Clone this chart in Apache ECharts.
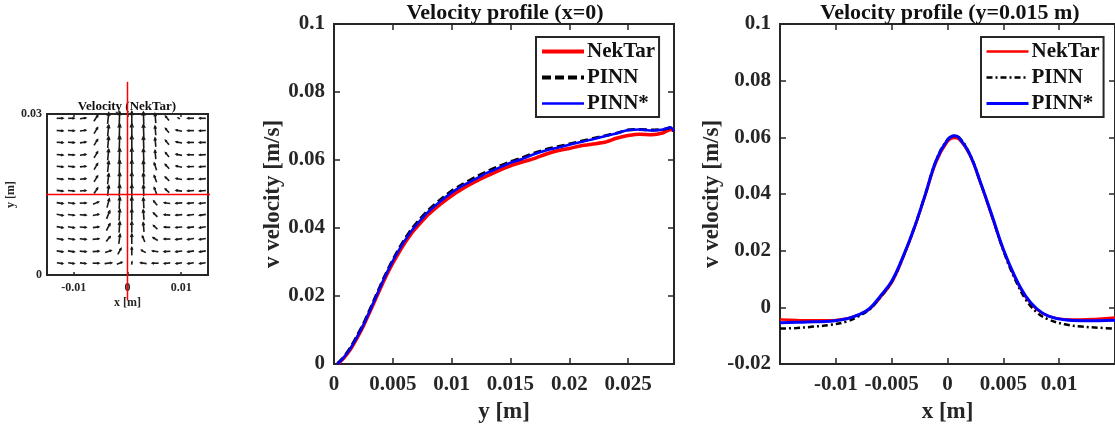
<!DOCTYPE html>
<html><head><meta charset="utf-8">
<script src="https://cdn.jsdelivr.net/npm/echarts@6/dist/echarts.min.js"></script>
<style>html,body{margin:0;padding:0;background:#fff}#c{width:1115px;height:429px}</style>
</head><body><div id="c"></div>
<script>
// ---------- Quiver (NekTar velocity field) ----------
const qx = [-0.0126,-0.0105,-0.0083,-0.0059,-0.0036,-0.0015,0.0008,0.003,0.0052,0.0074,0.0096,0.0118,0.014];
const qy = [0.0292,0.0269,0.0247,0.0224,0.0202,0.0179,0.0157,0.0134,0.0112,0.0089,0.0067,0.0044,0.0022];
const qu = [
 [0.032,0.03,0.03,0.02,0.006,0.002,0,-0.002,-0.004,-0.018,-0.01,-0.032,-0.032],
 [0.032,0.032,0.03,0.018,0.005,0.002,0,-0.002,-0.004,-0.018,-0.03,-0.032,-0.032],
 [0.032,0.032,0.03,0.018,0.005,0.002,0,-0.002,-0.004,-0.018,-0.03,-0.032,-0.032],
 [0.032,0.032,0.03,0.018,0.005,0.002,0,-0.002,-0.004,-0.018,-0.03,-0.032,-0.032],
 [0.032,0.032,0.03,0.018,0.006,0.002,0,-0.002,-0.012,-0.02,-0.03,-0.032,-0.032],
 [0.032,0.032,0.03,0.018,0.006,0.002,0,-0.002,-0.012,-0.02,-0.03,-0.032,-0.032],
 [0.032,0.032,0.03,0.018,0.006,0.002,0,-0.002,-0.012,-0.02,-0.03,-0.032,-0.032],
 [0.032,0.032,0.032,0.028,0.012,0.003,0,-0.003,-0.018,-0.03,-0.032,-0.032,-0.032],
 [0.032,0.032,0.032,0.03,0.016,0.004,0,-0.004,-0.02,-0.03,-0.032,-0.032,-0.032],
 [0.032,0.032,0.032,0.03,0.018,0.004,0,-0.004,-0.02,-0.03,-0.032,-0.032,-0.032],
 [0.032,0.032,0.032,0.032,0.02,0.006,0,-0.012,-0.024,-0.032,-0.032,-0.032,-0.032],
 [0.032,0.032,0.032,0.032,0.03,0.016,0,-0.022,-0.03,-0.032,-0.032,-0.032,-0.032],
 [0.03,0.03,0.03,0.032,0.036,0.026,0.002,-0.03,-0.032,-0.03,-0.03,-0.03,-0.03]
];
const qv = [
 [0,0,0.004,0.03,0.056,0.066,0.068,0.062,0.048,0.022,0.004,0,0],
 [-0.002,-0.001,0.004,0.03,0.056,0.066,0.068,0.061,0.046,0.022,0.006,0,-0.001],
 [-0.002,-0.002,0.004,0.03,0.056,0.065,0.067,0.06,0.045,0.022,0.006,0,-0.001],
 [-0.003,-0.002,0.004,0.03,0.055,0.064,0.066,0.059,0.044,0.022,0.006,0,-0.002],
 [-0.003,-0.003,0.003,0.03,0.054,0.063,0.064,0.058,0.036,0.022,0.006,-0.001,-0.002],
 [-0.004,-0.003,0.003,0.03,0.053,0.062,0.062,0.056,0.034,0.02,0.005,-0.002,-0.003],
 [-0.004,-0.003,0.002,0.028,0.052,0.06,0.06,0.054,0.032,0.018,0.004,-0.002,-0.003],
 [-0.005,-0.004,0,0.012,0.045,0.058,0.058,0.052,0.022,0.004,-0.002,-0.003,-0.004],
 [-0.006,-0.004,-0.002,0.006,0.04,0.056,0.056,0.05,0.02,0.002,-0.003,-0.004,-0.005],
 [-0.006,-0.005,-0.002,0.004,0.035,0.054,0.054,0.046,0.018,0.001,-0.003,-0.004,-0.005],
 [-0.006,-0.005,-0.003,0.003,0.025,0.048,0.05,0.03,0.015,0,-0.004,-0.005,-0.005],
 [-0.005,-0.005,-0.003,0.002,0.01,0.03,0.04,0.012,0.004,-0.002,-0.004,-0.005,-0.005],
 [-0.004,-0.004,-0.003,0,0.004,0.01,0.014,0.004,0,-0.003,-0.004,-0.004,-0.004]
];
const crossV = [[0,-0.0047],[0,0.036]];
const crossH = [[-0.0188,0.015],[0.0172,0.015]];
const qXTicks = [-0.01,0,0.01];
const qYTicks = [0,0.03];

// ---------- Velocity profile (x=0) ----------
const midY = [0.0003,0.0008,0.0014,0.002,0.0025,0.003,0.0036,0.0042,0.0048,0.0054,0.006,0.0066,0.0073,0.008,0.009,0.01,0.011,0.012,0.013,0.014,0.015,0.016,0.017,0.018,0.019,0.02,0.021,0.022,0.023,0.024,0.025,0.026,0.027,0.028,0.0286,0.0289];
const midNek = [0,0.0016,0.0043,0.0079,0.0112,0.015,0.0196,0.0242,0.0284,0.0321,0.0355,0.0385,0.0413,0.0439,0.0469,0.0495,0.0517,0.0536,0.0553,0.0569,0.0583,0.0594,0.0604,0.0617,0.0627,0.0634,0.0642,0.0647,0.0652,0.0664,0.0672,0.0676,0.0674,0.068,0.069,0.0686];
const midPinn = [0.0002,0.0019,0.0048,0.0085,0.0118,0.0156,0.0203,0.025,0.0293,0.0332,0.0366,0.0397,0.0426,0.0452,0.0482,0.0509,0.053,0.0549,0.0566,0.0581,0.0595,0.0607,0.062,0.0631,0.0639,0.0647,0.0655,0.0663,0.0671,0.0679,0.0688,0.069,0.0688,0.069,0.0695,0.0685];
const midPinnS = [0,0.0018,0.0046,0.0082,0.0115,0.0153,0.02,0.0247,0.029,0.0328,0.0362,0.0392,0.0421,0.0447,0.0477,0.0504,0.0526,0.0544,0.0562,0.0577,0.0592,0.0603,0.0617,0.0628,0.0636,0.0645,0.0653,0.0661,0.067,0.0678,0.0688,0.069,0.0687,0.069,0.0696,0.0685];
const midXTicks = [0,0.005,0.01,0.015,0.02,0.025];
const midYTicks = [0,0.02,0.04,0.06,0.08,0.1];

// ---------- Velocity profile (y=0.015 m) ----------
const rX = [-0.015,-0.0135,-0.012,-0.0105,-0.009,-0.008,-0.007,-0.006,-0.005,-0.004,-0.003,-0.002,-0.001,0,0.0006,0.001,0.002,0.003,0.004,0.005,0.006,0.007,0.008,0.009,0.0105,0.012,0.0135,0.015];
const rNek = [-0.0043,-0.0045,-0.0046,-0.0046,-0.0039,-0.0027,-0.0008,0.0035,0.0086,0.0172,0.0275,0.0393,0.0513,0.0584,0.0598,0.0594,0.0536,0.0432,0.0318,0.0202,0.0108,0.0036,-0.0008,-0.003,-0.0042,-0.0043,-0.004,-0.0036];
const rPinn = [-0.0075,-0.0073,-0.0068,-0.0062,-0.005,-0.0032,-0.0008,0.0036,0.009,0.0176,0.0279,0.0398,0.0521,0.0592,0.0605,0.0601,0.0541,0.0435,0.032,0.02,0.0103,0.0028,-0.0018,-0.0042,-0.006,-0.0068,-0.0072,-0.0075];
const rPinnS = [-0.0054,-0.0053,-0.0051,-0.0049,-0.004,-0.0027,-0.0005,0.004,0.0092,0.0177,0.0278,0.0397,0.052,0.0591,0.0606,0.06,0.054,0.0436,0.0322,0.0205,0.0112,0.004,-0.0005,-0.003,-0.0044,-0.0047,-0.0047,-0.0046];
const rXTicks = [-0.01,-0.005,0,0.005,0.01];
const rYTicks = [-0.02,0,0.02,0.04,0.06,0.08,0.1];

const FONT = 'Liberation Serif';
const AX = '#262626';
const zip = (a, b) => a.map((v, i) => [v, b[i]]);

const quiverData = [];
qy.forEach((y, r) => qx.forEach((x, c) => quiverData.push([x, y, qu[r][c], qv[r][c]])));

function axisPair(kind, gi, min, max, ticks, labelTicks, lab) {
  const main = {
    type: 'value', gridIndex: gi, min: min, max: max,
    position: kind === 'x' ? 'bottom' : 'left',
    axisLine: {show: false, onZero: false}, splitLine: {show: false},
    axisTick: {show: true, inside: true, length: lab.tick, customValues: ticks, lineStyle: {color: AX, width: 1.5}},
    axisLabel: {show: true, customValues: labelTicks, margin: lab.margin, color: AX,
      fontFamily: FONT, fontWeight: 'bold', fontSize: lab.size},
    name: lab.name, nameLocation: 'middle', nameGap: lab.gap,
    nameTextStyle: {fontFamily: FONT, fontWeight: 'bold', fontSize: lab.nsize, color: AX}
  };
  const mirror = {
    type: 'value', gridIndex: gi, min: min, max: max, position: kind === 'x' ? 'top' : 'right',
    axisLine: {show: false, onZero: false}, splitLine: {show: false}, axisLabel: {show: false},
    axisTick: {show: true, inside: true, length: lab.tick, customValues: ticks, lineStyle: {color: AX, width: 1.5}}
  };
  return [main, mirror];
}

const xAxes = [].concat(
  axisPair('x', 0, -0.015, 0.015, qXTicks, qXTicks, {tick: 3, margin: 7, size: 12, name: 'x [m]', gap: 22, nsize: 12}),
  axisPair('x', 1, 0, 0.0289, midXTicks, midXTicks, {tick: 6, margin: 10, size: 21, name: 'y [m]', gap: 37, nsize: 23}),
  axisPair('x', 2, -0.015, 0.015, rXTicks, rXTicks, {tick: 6, margin: 10, size: 21, name: 'x [m]', gap: 37, nsize: 23})
);
const yAxes = [].concat(
  axisPair('y', 0, 0, 0.03, qYTicks, qYTicks, {tick: 3, margin: 5, size: 12, name: 'y [m]', gap: 28, nsize: 12}),
  axisPair('y', 1, 0, 0.1, midYTicks, midYTicks, {tick: 6, margin: 9, size: 21, name: 'v velocity [m/s]', gap: 47, nsize: 23}),
  axisPair('y', 2, -0.02, 0.1, rYTicks, rYTicks, {tick: 6, margin: 9, size: 21, name: 'v velocity [m/s]', gap: 54, nsize: 23})
);

const gridBase = {show: true, borderColor: AX, borderWidth: 2, backgroundColor: '#fff', containLabel: false};
const legendBase = {
  orient: 'vertical', itemWidth: 42, itemHeight: 14, itemGap: 5, padding: [4, 4, 3, 4],
  borderColor: AX, borderWidth: 2, backgroundColor: '#fff', borderRadius: 0,
  selectedMode: false,
  itemStyle: {opacity: 0},
  textStyle: {fontFamily: FONT, fontWeight: 'bold', fontSize: 21, color: '#111', padding: [0, 0, 0, -2]}
};

const S = 200; // px per unit speed for arrows
const option = {
  animation: false,
  backgroundColor: '#fff',
  grid: [
    Object.assign({left: 47, top: 114, width: 161, height: 161}, gridBase),
    Object.assign({left: 334, top: 24, width: 340, height: 341}, gridBase),
    Object.assign({left: 780, top: 24, width: 340, height: 340}, gridBase)
  ],
  xAxis: xAxes,
  yAxis: yAxes,
  legend: [
    Object.assign({left: 536, top: 37, data: [
      {name: 'NekTar', lineStyle: {width: 4, color: '#ff0000', type: 'solid'}},
      {name: 'PINN', lineStyle: {width: 4, color: '#000', type: [9, 4]}},
      {name: 'PINN*', lineStyle: {width: 2.5, color: '#0000ff', type: 'solid'}}
    ]}, legendBase),
    Object.assign({left: 981, top: 37, data: [
      {name: 'NekTar', lineStyle: {width: 2.5, color: '#ff0000', type: 'solid'}},
      {name: 'PINN', lineStyle: {width: 2.5, color: '#000', type: [6, 3, 2, 3]}},
      {name: 'PINN*', lineStyle: {width: 3, color: '#0000ff', type: 'solid'}}
    ]}, legendBase)
  ],
  graphic: [
    {type: 'text', x: 505, y: 13, style: {text: 'Velocity profile (x=0)', font: 'bold 22px "Liberation Serif"', fill: '#111', align: 'center', verticalAlign: 'middle'}},
    {type: 'text', x: 950, y: 13, style: {text: 'Velocity profile (y=0.015 m)', font: 'bold 22px "Liberation Serif"', fill: '#111', align: 'center', verticalAlign: 'middle'}},
    {type: 'text', x: 127, y: 107, style: {text: 'Velocity (NekTar)', font: 'bold 13px "Liberation Serif"', fill: '#111', align: 'center', verticalAlign: 'middle'}}
  ],
  series: [
    {
      type: 'custom', xAxisIndex: 0, yAxisIndex: 0, data: quiverData, encode: {x: 0, y: 1}, silent: true,
      renderItem: function (params, api) {
        const p = api.coord([api.value(0), api.value(1)]);
        const dx = api.value(2) * S, dy = -api.value(3) * S;
        const L = Math.hypot(dx, dy);
        const x0 = p[0] - dx / 2, y0 = p[1] - dy / 2, x1 = p[0] + dx / 2, y1 = p[1] + dy / 2;
        const h = Math.min(0.32 * L, 4), ang = Math.atan2(dy, dx), a = 0.45;
        return {type: 'group', children: [
          {type: 'line', shape: {x1: x0, y1: y0, x2: x1, y2: y1}, style: {stroke: '#1a1a1a', lineWidth: 1.6}},
          {type: 'polyline', shape: {points: [[x1 - h * Math.cos(ang - a), y1 - h * Math.sin(ang - a)], [x1, y1], [x1 - h * Math.cos(ang + a), y1 - h * Math.sin(ang + a)]]},
           style: {stroke: '#1a1a1a', lineWidth: 1.3, fill: null}}
        ]};
      }
    },
    {type: 'line', xAxisIndex: 0, yAxisIndex: 0, data: crossV, symbol: 'none', clip: false, silent: true, z: 5, lineStyle: {color: '#ff0000', width: 1.5}},
    {type: 'line', xAxisIndex: 0, yAxisIndex: 0, data: crossH, symbol: 'none', clip: false, silent: true, z: 5, lineStyle: {color: '#ff0000', width: 1.5}},

    {name: 'NekTar', type: 'line', xAxisIndex: 2, yAxisIndex: 2, data: zip(midY, midNek), symbol: 'none', smooth: 0.2, lineStyle: {color: '#ff0000', width: 3.5}, itemStyle: {color: '#ff0000'}},
    {name: 'PINN', type: 'line', xAxisIndex: 2, yAxisIndex: 2, data: zip(midY, midPinn), symbol: 'none', smooth: 0.2, lineStyle: {color: '#000', width: 3, type: [8, 4]}, itemStyle: {color: '#000'}},
    {name: 'PINN*', type: 'line', xAxisIndex: 2, yAxisIndex: 2, data: zip(midY, midPinnS), symbol: 'none', smooth: 0.2, lineStyle: {color: '#0000ff', width: 2.5}, itemStyle: {color: '#0000ff'}},

    {name: 'NekTar', type: 'line', xAxisIndex: 4, yAxisIndex: 4, data: zip(rX, rNek), symbol: 'none', smooth: 0.4, lineStyle: {color: '#ff0000', width: 2.5}, itemStyle: {color: '#ff0000'}},
    {name: 'PINN', type: 'line', xAxisIndex: 4, yAxisIndex: 4, data: zip(rX, rPinn), symbol: 'none', smooth: 0.4, lineStyle: {color: '#000', width: 2.5, type: [6, 3, 2, 3]}, itemStyle: {color: '#000'}},
    {name: 'PINN*', type: 'line', xAxisIndex: 4, yAxisIndex: 4, data: zip(rX, rPinnS), symbol: 'none', smooth: 0.4, lineStyle: {color: '#0000ff', width: 3}, itemStyle: {color: '#0000ff'}}
  ]
};
const chart = echarts.init(document.getElementById('c'), null, {renderer: 'canvas'});
chart.setOption(option);
</script></body></html>
